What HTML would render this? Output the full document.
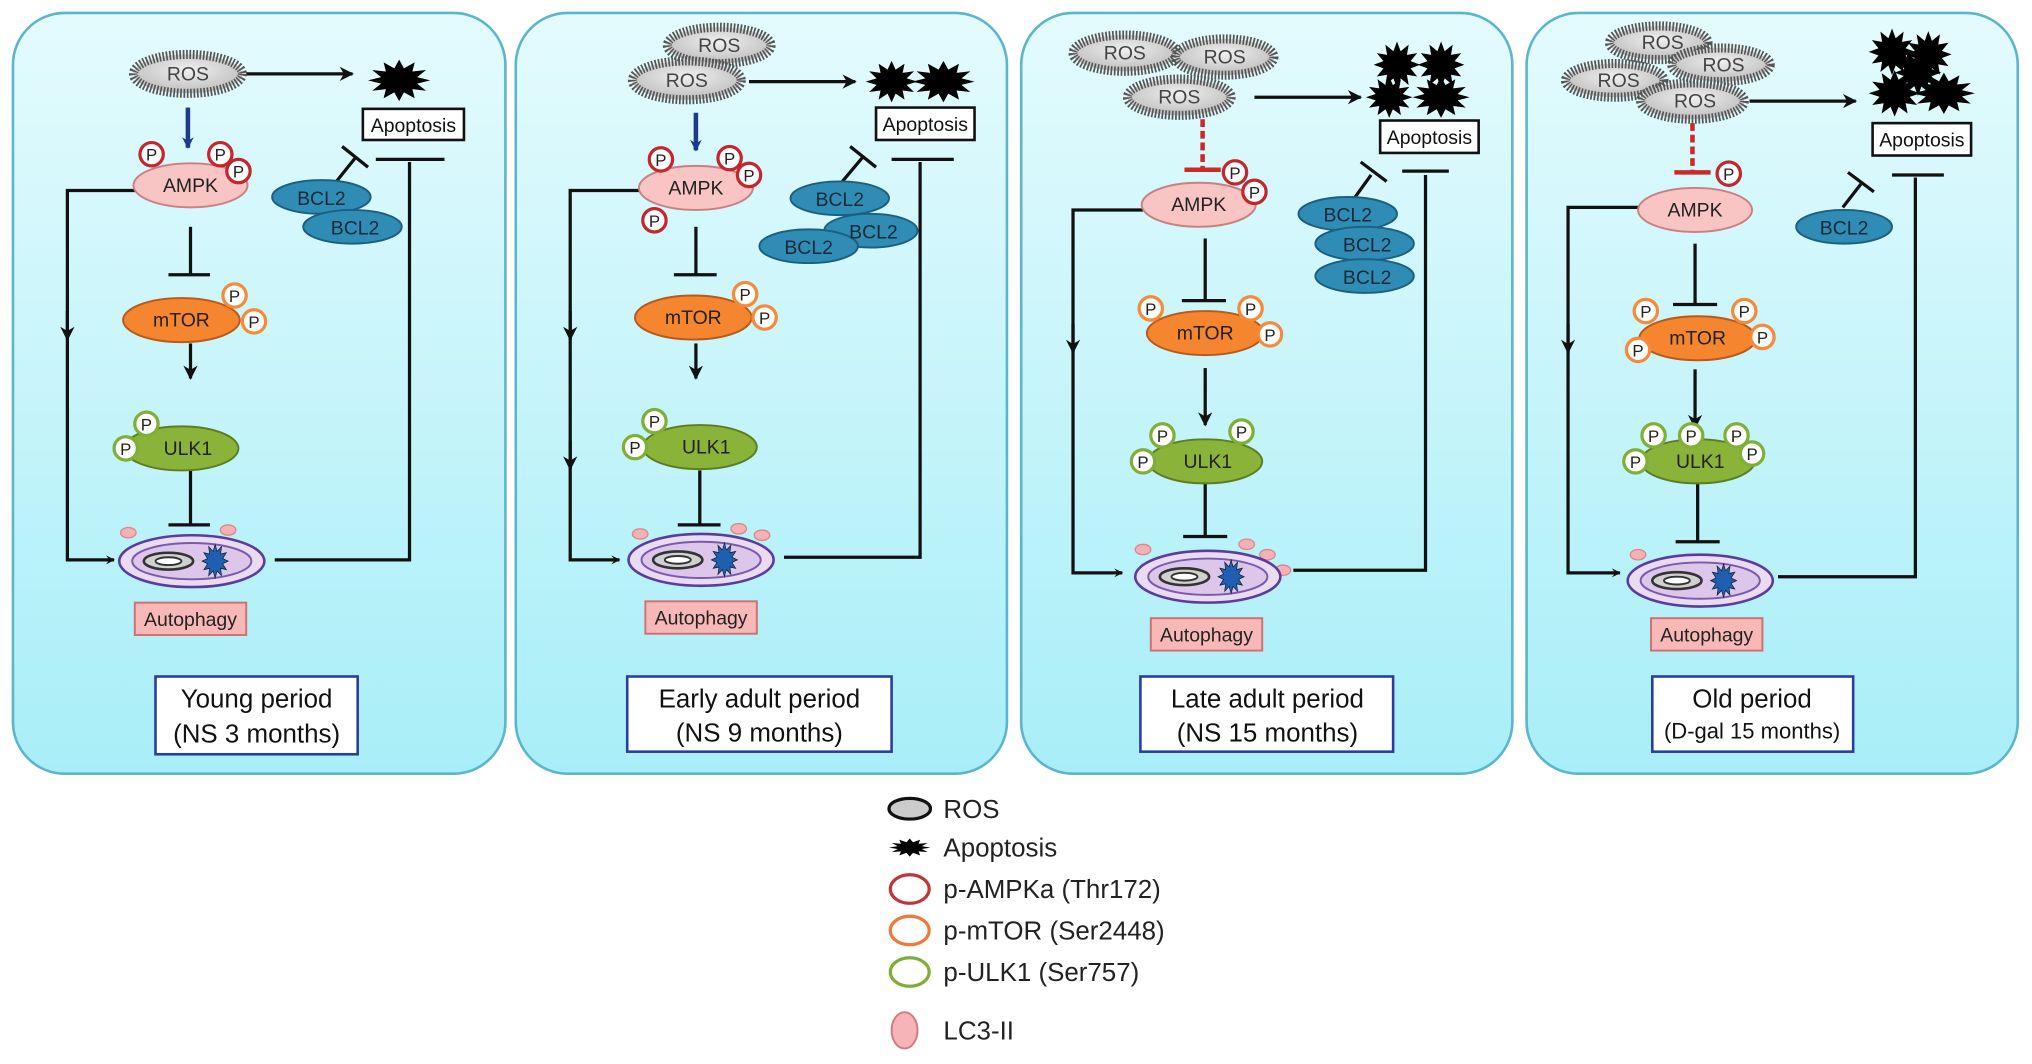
<!DOCTYPE html>
<html><head><meta charset="utf-8"><style>
html,body{margin:0;padding:0;background:#fff;}
svg{display:block;}
text{font-family:"Liberation Sans",Arial,sans-serif;}
</style></head><body>
<svg width="2032" height="1064" viewBox="0 0 1568 821" preserveAspectRatio="none" xmlns="http://www.w3.org/2000/svg">
<defs>
<linearGradient id="bg" x1="0" y1="0" x2="0" y2="1"><stop offset="0" stop-color="#e4fbfd"/><stop offset="1" stop-color="#a8eef8"/></linearGradient>
<radialGradient id="gros" cx="0.5" cy="0.4" r="0.6"><stop offset="0" stop-color="#f0f0f0"/><stop offset="1" stop-color="#bdbdbd"/></radialGradient>
<marker id="ar" viewBox="0 0 10 10" refX="9" refY="5" markerWidth="7" markerHeight="7" orient="auto" markerUnits="userSpaceOnUse"><path d="M0,0 L10,5 L0,10 L4,5z" fill="#111"/></marker>
<marker id="ar2" viewBox="0 0 10 10" refX="9" refY="5" markerWidth="11" markerHeight="11" orient="auto" markerUnits="userSpaceOnUse"><path d="M0,0 L10,5 L0,10 L3,5z" fill="#111"/></marker>
<marker id="arb" viewBox="0 0 10 10" refX="9" refY="5" markerWidth="9" markerHeight="9" orient="auto" markerUnits="userSpaceOnUse"><path d="M0,0 L10,5 L0,10 L3,5z" fill="#1e3a8a"/></marker>
<polygon id="star" points="20,0 11.6,3.1 17.3,10 8.5,8.5 10,17.3 3.1,11.6 0,20 -3.1,11.6 -10,17.3 -8.5,8.5 -17.3,10 -11.6,3.1 -20,0 -11.6,-3.1 -17.3,-10 -8.5,-8.5 -10,-17.3 -3.1,-11.6 0,-20 3.1,-11.6 10,-17.3 8.5,-8.5 17.3,-10 11.6,-3.1"/>
<g id="auto">
<ellipse cx="0" cy="0" rx="56" ry="20" fill="#eadaf2" stroke="#5a3d9a" stroke-width="2"/>
<ellipse cx="0" cy="0" rx="46" ry="14" fill="#dcc6ea" stroke="#7a5aaa" stroke-width="1.5"/>
<ellipse cx="-18" cy="0" rx="19" ry="6.5" fill="#d0d0d0" stroke="#333" stroke-width="2"/>
<ellipse cx="-18" cy="0" rx="10" ry="3" fill="#fff" stroke="#333" stroke-width="1.5"/>
<use href="#star" transform="translate(18,0) scale(0.5,0.65)" fill="#1f5fb0" stroke="#123" stroke-width="1"/>
</g>
</defs>

<rect x="10" y="10" width="380" height="587" rx="40" fill="url(#bg)" stroke="#5bb5cc" stroke-width="2"/>
<rect x="398" y="10" width="379" height="587" rx="40" fill="url(#bg)" stroke="#5bb5cc" stroke-width="2"/>
<rect x="788" y="10" width="379" height="587" rx="40" fill="url(#bg)" stroke="#5bb5cc" stroke-width="2"/>
<rect x="1178" y="10" width="379" height="587" rx="40" fill="url(#bg)" stroke="#5bb5cc" stroke-width="2"/>

<g stroke="#111" stroke-width="2.5" fill="none">
<line x1="190" y1="57" x2="272" y2="57" marker-end="url(#ar2)"/>
<path d="M105,147 H52 V432 H88" marker-end="url(#ar)"/>
<line x1="52" y1="240" x2="52" y2="262" marker-end="url(#ar2)"/>
<line x1="147" y1="175" x2="147" y2="212"/><line x1="130" y1="212" x2="162" y2="212"/>
<line x1="147" y1="265" x2="147" y2="292" marker-end="url(#ar2)"/>
<line x1="147" y1="363" x2="147" y2="405"/><line x1="130" y1="405" x2="162" y2="405"/>
<path d="M212,432 H316 V125"/><line x1="290" y1="123" x2="343" y2="123"/>
<line x1="258" y1="142" x2="274" y2="122"/><line x1="264" y1="113" x2="284" y2="129"/>
<line x1="578" y1="63" x2="660" y2="63" marker-end="url(#ar2)"/>
<path d="M495,147 H440 V432 H478" marker-end="url(#ar)"/>
<line x1="440" y1="240" x2="440" y2="262" marker-end="url(#ar2)"/>
<line x1="440" y1="340" x2="440" y2="362" marker-end="url(#ar2)"/>
<line x1="537" y1="175" x2="537" y2="212"/><line x1="520" y1="212" x2="553" y2="212"/>
<line x1="537" y1="265" x2="537" y2="292" marker-end="url(#ar2)"/>
<line x1="540" y1="363" x2="540" y2="405"/><line x1="523" y1="405" x2="556" y2="405"/>
<path d="M605,430 H710 V125"/><line x1="688" y1="123" x2="736" y2="123"/>
<line x1="650" y1="140" x2="666" y2="121"/><line x1="656" y1="113" x2="676" y2="129"/>
<line x1="968" y1="75" x2="1050" y2="75" marker-end="url(#ar2)"/>
<path d="M882,162 H828 V442 H866" marker-end="url(#ar)"/>
<line x1="828" y1="250" x2="828" y2="272" marker-end="url(#ar2)"/>
<line x1="930" y1="184" x2="930" y2="232"/><line x1="912" y1="232" x2="946" y2="232"/>
<line x1="930" y1="284" x2="930" y2="328" marker-end="url(#ar2)"/>
<line x1="930" y1="373" x2="930" y2="414"/><line x1="913" y1="414" x2="947" y2="414"/>
<path d="M998,440 H1100 V135"/><line x1="1082" y1="132" x2="1118" y2="132"/>
<line x1="1045" y1="153" x2="1058" y2="135"/><line x1="1050" y1="125" x2="1070" y2="140"/>
<line x1="1350" y1="78" x2="1432" y2="78" marker-end="url(#ar2)"/>
<path d="M1265,160 H1210 V442 H1250" marker-end="url(#ar)"/>
<line x1="1210" y1="250" x2="1210" y2="272" marker-end="url(#ar2)"/>
<line x1="1308" y1="188" x2="1308" y2="235"/><line x1="1291" y1="235" x2="1325" y2="235"/>
<line x1="1308" y1="285" x2="1308" y2="330" marker-end="url(#ar2)"/>
<line x1="1310" y1="373" x2="1310" y2="418"/><line x1="1293" y1="418" x2="1327" y2="418"/>
<path d="M1372,445 H1478 V137"/><line x1="1460" y1="135" x2="1500" y2="135"/>
<line x1="1422" y1="160" x2="1436" y2="142"/><line x1="1426" y1="133" x2="1446" y2="148"/>
</g>
<line x1="145" y1="83" x2="145" y2="114" stroke="#1e3a8a" stroke-width="3.5" marker-end="url(#arb)"/>
<line x1="537" y1="87" x2="537" y2="116" stroke="#1e3a8a" stroke-width="3.5" marker-end="url(#arb)"/>
<g stroke="#d02828" stroke-width="3.5" fill="none">
<line x1="928" y1="92" x2="928" y2="130" stroke-dasharray="6 3"/><line x1="914" y1="131" x2="942" y2="131"/>
<line x1="1306" y1="95" x2="1306" y2="132" stroke-dasharray="6 3"/><line x1="1292" y1="133" x2="1320" y2="133"/>
</g>

<g fill="url(#gros)" stroke="#555" stroke-width="7" stroke-dasharray="1.3 1.3">
<ellipse cx="145" cy="57" rx="42" ry="15"/>
<ellipse cx="555" cy="35" rx="40" ry="14"/>
<ellipse cx="530" cy="62" rx="42" ry="15"/>
<ellipse cx="868" cy="41" rx="40" ry="14"/>
<ellipse cx="945" cy="44" rx="38" ry="14"/>
<ellipse cx="910" cy="75" rx="40" ry="14"/>
<ellipse cx="1280" cy="33" rx="38" ry="13"/>
<ellipse cx="1328" cy="50" rx="38" ry="13"/>
<ellipse cx="1246" cy="62" rx="38" ry="13"/>
<ellipse cx="1306" cy="78" rx="40" ry="14"/>
</g>
<g font-size="15" fill="#444" text-anchor="middle">
<text x="145" y="62">ROS</text><text x="555" y="40">ROS</text><text x="530" y="67">ROS</text>
<text x="868" y="46">ROS</text><text x="945" y="49">ROS</text><text x="910" y="80">ROS</text>
<text x="1283" y="38">ROS</text><text x="1330" y="55">ROS</text><text x="1249" y="67">ROS</text><text x="1308" y="83">ROS</text>
</g>

<g fill="#000">
<use href="#star" transform="translate(308,62) scale(1.2,0.8)"/>
<use href="#star" transform="translate(688,63) scale(1.0,0.8)"/>
<use href="#star" transform="translate(728,63) scale(1.2,0.8)"/>
<use href="#star" transform="translate(1078,50) scale(0.9,0.9)"/>
<use href="#star" transform="translate(1112,50) scale(0.9,0.9)"/>
<use href="#star" transform="translate(1072,75) scale(0.9,0.8)"/>
<use href="#star" transform="translate(1112,75) scale(1.1,0.8)"/>
<use href="#star" transform="translate(1460,40) scale(0.9,0.9)"/>
<use href="#star" transform="translate(1488,42) scale(0.9,0.9)"/>
<use href="#star" transform="translate(1462,72) scale(1.0,0.9)"/>
<use href="#star" transform="translate(1500,72) scale(1.2,0.8)"/>
<use href="#star" transform="translate(1480,56) scale(0.9,0.9)"/>
</g>
<g fill="#fff" stroke="#111" stroke-width="2">
<rect x="280" y="84" width="78" height="24"/>
<rect x="676" y="83" width="76" height="25"/>
<rect x="1065" y="93" width="76" height="25"/>
<rect x="1445" y="95" width="76" height="25"/>
</g>
<g font-size="15" fill="#111" text-anchor="middle">
<text x="319" y="102">Apoptosis</text><text x="714" y="101">Apoptosis</text>
<text x="1103" y="111">Apoptosis</text><text x="1483" y="113">Apoptosis</text>
</g>

<g fill="#2f8db5" stroke="#1d5f80" stroke-width="1.5">
<ellipse cx="248" cy="152" rx="38" ry="13"/><ellipse cx="272" cy="175" rx="38" ry="13"/>
<ellipse cx="648" cy="153" rx="38" ry="13"/><ellipse cx="672" cy="178" rx="36" ry="13"/><ellipse cx="624" cy="190" rx="38" ry="13"/>
<ellipse cx="1040" cy="165" rx="38" ry="13"/><ellipse cx="1053" cy="188" rx="38" ry="13"/><ellipse cx="1053" cy="213" rx="38" ry="13"/>
<ellipse cx="1423" cy="175" rx="37" ry="13"/>
</g>
<g font-size="15" fill="#1a2a3a" text-anchor="middle">
<text x="248" y="158">BCL2</text><text x="274" y="181">BCL2</text>
<text x="648" y="159">BCL2</text><text x="674" y="184">BCL2</text><text x="624" y="196">BCL2</text>
<text x="1040" y="171">BCL2</text><text x="1055" y="194">BCL2</text><text x="1055" y="219">BCL2</text>
<text x="1423" y="181">BCL2</text>
</g>

<g stroke-width="1.5">
<ellipse cx="147" cy="143" rx="44" ry="17" fill="#f8c4c4" stroke="#c98080"/>
<ellipse cx="537" cy="145" rx="44" ry="17" fill="#f8c4c4" stroke="#c98080"/>
<ellipse cx="925" cy="158" rx="44" ry="17" fill="#f8c4c4" stroke="#c98080"/>
<ellipse cx="1308" cy="162" rx="44" ry="17" fill="#f8c4c4" stroke="#c98080"/>
<ellipse cx="140" cy="247" rx="45" ry="17" fill="#f5852f" stroke="#b85a18"/>
<ellipse cx="535" cy="245" rx="45" ry="17" fill="#f5852f" stroke="#b85a18"/>
<ellipse cx="930" cy="257" rx="45" ry="17" fill="#f5852f" stroke="#b85a18"/>
<ellipse cx="1310" cy="261" rx="45" ry="17" fill="#f5852f" stroke="#b85a18"/>
<ellipse cx="140" cy="346" rx="44" ry="17" fill="#8ab33a" stroke="#5e7d22"/>
<ellipse cx="540" cy="345" rx="44" ry="17" fill="#8ab33a" stroke="#5e7d22"/>
<ellipse cx="930" cy="356" rx="44" ry="17" fill="#8ab33a" stroke="#5e7d22"/>
<ellipse cx="1310" cy="356" rx="44" ry="17" fill="#8ab33a" stroke="#5e7d22"/>
</g>
<g font-size="15" fill="#222" text-anchor="middle">
<text x="147" y="148">AMPK</text><text x="537" y="150">AMPK</text><text x="925" y="163">AMPK</text><text x="1308" y="167">AMPK</text>
<text x="140" y="252">mTOR</text><text x="535" y="250">mTOR</text><text x="930" y="262">mTOR</text><text x="1310" y="266">mTOR</text>
<text x="145" y="351">ULK1</text><text x="545" y="350">ULK1</text><text x="932" y="361">ULK1</text><text x="1312" y="361">ULK1</text>
</g>

<g fill="#fff" stroke-width="2.5">
<g stroke="#c4262e">
<circle cx="117" cy="119" r="9"/><circle cx="170" cy="119" r="9"/><circle cx="184" cy="132" r="9"/>
<circle cx="510" cy="123" r="9"/><circle cx="563" cy="122" r="9"/><circle cx="578" cy="135" r="9"/><circle cx="505" cy="170" r="9"/>
<circle cx="953" cy="133" r="9"/><circle cx="968" cy="148" r="9"/>
<circle cx="1334" cy="134" r="9"/>
</g>
<g stroke="#f58a3a">
<circle cx="181" cy="228" r="9"/><circle cx="196" cy="248" r="9"/>
<circle cx="575" cy="227" r="9"/><circle cx="590" cy="245" r="9"/>
<circle cx="888" cy="238" r="9"/><circle cx="965" cy="238" r="9"/><circle cx="980" cy="258" r="9"/>
<circle cx="1270" cy="240" r="9"/><circle cx="1346" cy="240" r="9"/><circle cx="1360" cy="260" r="9"/><circle cx="1264" cy="270" r="9"/>
</g>
<g stroke="#7fb035">
<circle cx="113" cy="327" r="9"/><circle cx="97" cy="346" r="9"/>
<circle cx="505" cy="325" r="9"/><circle cx="490" cy="345" r="9"/>
<circle cx="897" cy="336" r="9"/><circle cx="958" cy="333" r="9"/><circle cx="882" cy="356" r="9"/>
<circle cx="1276" cy="336" r="9"/><circle cx="1305" cy="336" r="9"/><circle cx="1340" cy="336" r="9"/><circle cx="1352" cy="350" r="9"/><circle cx="1262" cy="356" r="9"/>
</g>
</g>
<g font-size="13" fill="#222" text-anchor="middle">
<text x="117" y="124">P</text><text x="170" y="124">P</text><text x="184" y="137">P</text>
<text x="510" y="128">P</text><text x="563" y="127">P</text><text x="578" y="140">P</text><text x="505" y="175">P</text>
<text x="953" y="138">P</text><text x="968" y="153">P</text><text x="1334" y="139">P</text>
<text x="181" y="233">P</text><text x="196" y="253">P</text><text x="575" y="232">P</text><text x="590" y="250">P</text>
<text x="888" y="243">P</text><text x="965" y="243">P</text><text x="980" y="263">P</text>
<text x="1270" y="245">P</text><text x="1346" y="245">P</text><text x="1360" y="265">P</text><text x="1264" y="275">P</text>
<text x="113" y="332">P</text><text x="97" y="351">P</text><text x="505" y="330">P</text><text x="490" y="350">P</text>
<text x="897" y="341">P</text><text x="958" y="338">P</text><text x="882" y="361">P</text>
<text x="1276" y="341">P</text><text x="1305" y="341">P</text><text x="1340" y="341">P</text><text x="1352" y="355">P</text><text x="1262" y="361">P</text>
</g>

<g fill="#f7b0b4" stroke="#d68a8e" stroke-width="1">
<ellipse cx="99" cy="411" rx="6" ry="4"/><ellipse cx="176" cy="409" rx="6" ry="4"/>
<ellipse cx="494" cy="412" rx="6" ry="4"/><ellipse cx="570" cy="408" rx="6" ry="4"/><ellipse cx="588" cy="413" rx="6" ry="4"/>
<ellipse cx="882" cy="424" rx="6" ry="4"/><ellipse cx="962" cy="420" rx="6" ry="4"/><ellipse cx="978" cy="428" rx="6" ry="4"/><ellipse cx="990" cy="440" rx="6" ry="4"/>
<ellipse cx="1264" cy="428" rx="6" ry="4"/>
</g>
<use href="#auto" transform="translate(148,433)"/>
<use href="#auto" transform="translate(541,432)"/>
<use href="#auto" transform="translate(932,445)"/>
<use href="#auto" transform="translate(1312,448)"/>
<g fill="#f8b8b8" stroke="#d07070" stroke-width="1.5">
<rect x="104" y="465" width="86" height="25"/><rect x="498" y="464" width="86" height="25"/>
<rect x="888" y="477" width="86" height="25"/><rect x="1274" y="477" width="86" height="25"/>
</g>
<g font-size="15" fill="#222" text-anchor="middle">
<text x="147" y="483">Autophagy</text><text x="541" y="482">Autophagy</text>
<text x="931" y="495">Autophagy</text><text x="1317" y="495">Autophagy</text>
</g>

<g fill="#fff" stroke="#2a3ea0" stroke-width="2">
<rect x="120" y="522" width="156" height="60"/><rect x="484" y="522" width="204" height="58"/>
<rect x="880" y="522" width="195" height="58"/><rect x="1275" y="522" width="155" height="58"/>
</g>
<g font-size="20" fill="#111" text-anchor="middle">
<text x="198" y="546">Young period</text><text x="198" y="573">(NS 3 months)</text>
<text x="586" y="546">Early adult period</text><text x="586" y="572">(NS 9 months)</text>
<text x="978" y="546">Late adult period</text><text x="978" y="572">(NS 15 months)</text>
<text x="1352" y="546">Old period</text><text x="1352" y="570" font-size="17">(D-gal 15 months)</text>
</g>

<ellipse cx="702" cy="624" rx="16" ry="8" fill="#ccc" stroke="#111" stroke-width="2.5"/>
<use href="#star" transform="translate(702,654) scale(0.8,0.35)" fill="#000"/>
<ellipse cx="702" cy="686" rx="15" ry="11" fill="none" stroke="#c0343a" stroke-width="2.5"/>
<ellipse cx="702" cy="718" rx="15" ry="11" fill="none" stroke="#f07838" stroke-width="2.5"/>
<ellipse cx="702" cy="750" rx="15" ry="11" fill="none" stroke="#80ad38" stroke-width="2.5"/>
<ellipse cx="698" cy="795" rx="10" ry="14" fill="#f7b4b8" stroke="#d07a80" stroke-width="1.5"/>
<g font-size="20" fill="#222">
<text x="728" y="631">ROS</text><text x="728" y="661">Apoptosis</text>
<text x="728" y="693">p-AMPKa (Thr172)</text><text x="728" y="725">p-mTOR (Ser2448)</text>
<text x="728" y="757">p-ULK1 (Ser757)</text><text x="728" y="802">LC3-II</text>
</g>
</svg>
</body></html>
